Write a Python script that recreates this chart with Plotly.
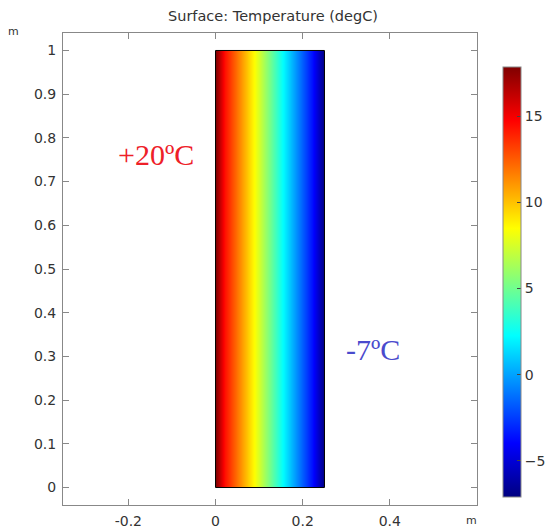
import plotly.graph_objects as go

# Data
x_pos = [0.0, 0.0216, 0.0906, 0.155, 0.222, 0.25]      # m
y_pos = [0.0, 1.0]                                      # m
temps = [17.85, 14.4, 8.4, 2.1, -3.7, -7.1]             # degC along x
t_min, t_max = -7.1, 17.85
cbar_ticks = [-5, 0, 5, 10, 15]
x_ticks = [-0.2, 0, 0.2, 0.4]
y_ticks = [0, 0.1, 0.2, 0.3, 0.4, 0.5, 0.6, 0.7, 0.8, 0.9, 1]
label_hot = "+20ºC"
label_cold = "-7ºC"

jet = [[0, "rgb(0,0,128)"], [0.125, "rgb(0,0,255)"], [0.375, "rgb(0,255,255)"],
       [0.625, "rgb(255,255,0)"], [0.875, "rgb(255,0,0)"], [1, "rgb(128,0,0)"]]

FONT = "DejaVu Sans"
TXT = "#333333"
AX = "#888888"

fig = go.Figure()
fig.add_trace(go.Contour(
    x=x_pos, y=y_pos, z=[temps, temps],
    colorscale=jet, zmin=t_min, zmax=t_max,
    contours=dict(coloring="heatmap", showlines=False),
    line=dict(width=0),
    ncontours=60,
    colorbar=dict(
        x=1.063, xanchor="left", y=0.928, yanchor="top",
        lenmode="pixels", len=430, thickness=18,
        xpad=0, ypad=0,
        outlinecolor=AX, outlinewidth=1,
        tickvals=cbar_ticks, ticks="inside", ticklen=4, tickcolor="#444444",
        tickfont=dict(family=FONT, size=14, color=TXT),
    ),
    hoverinfo="skip",
))

fig.add_shape(type="rect", x0=x_pos[0], x1=x_pos[-1], y0=y_pos[0], y1=y_pos[-1],
              line=dict(color="black", width=1))

fig.update_layout(
    width=547, height=529,
    margin=dict(l=63, r=70, t=33, b=24, autoexpand=False),
    paper_bgcolor="white", plot_bgcolor="white",
    font=dict(family=FONT, size=14, color=TXT),
    showlegend=False,
    title=dict(text="Surface: Temperature (degC)", x=273 / 547, xanchor="center",
               y=1 - 16 / 529, yanchor="middle",
               font=dict(family=FONT, size=14.5, color=TXT)),
)
fig.update_xaxes(range=[-0.35, 0.6], tickvals=x_ticks, ticktext=["-0.2", "0", "0.2", "0.4"],
                 ticks="inside", ticklen=6, tickcolor=AX, showline=True, linecolor=AX,
                 linewidth=1, mirror="allticks", showgrid=False, zeroline=False,
                 ticklabelstandoff=3)
fig.update_yaxes(range=[-0.04, 1.04], tickvals=y_ticks,
                 ticks="inside", ticklen=6, tickcolor=AX, showline=True, linecolor=AX,
                 linewidth=1, mirror="allticks", showgrid=False, zeroline=False,
                 ticklabelstandoff=3)

fig.add_annotation(text="m", xref="paper", yref="paper", x=-49 / 413, y=1 + 1 / 472,
                   xanchor="center", yanchor="middle", showarrow=False,
                   font=dict(family=FONT, size=11, color=TXT))
fig.add_annotation(text="m", xref="paper", yref="paper", x=(471 - 63) / 413, y=-(520 - 505) / 472,
                   xanchor="center", yanchor="middle", showarrow=False,
                   font=dict(family=FONT, size=11, color=TXT))
fig.add_annotation(text=label_hot, xref="x", yref="y", x=-0.137, y=0.763,
                   xanchor="center", yanchor="middle", showarrow=False,
                   font=dict(family="Liberation Serif", size=30, color="#ee2028"))
fig.add_annotation(text=label_cold, xref="x", yref="y", x=0.362, y=0.316,
                   xanchor="center", yanchor="middle", showarrow=False,
                   font=dict(family="Liberation Serif", size=30, color="#4a4acd"))

fig.write_html("out.html")
